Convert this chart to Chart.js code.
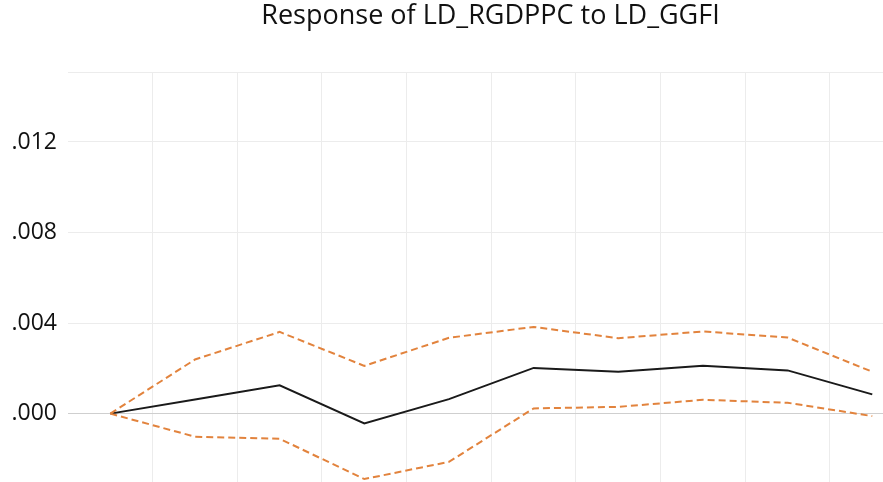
<!DOCTYPE html>
<html>
<head>
<meta charset="utf-8">
<script src="https://cdn.jsdelivr.net/npm/chart.js@4"></script>
<style>
  html, body { margin: 0; padding: 0; background: #fff; overflow: hidden; width: 883px; height: 482px; }
  #wrap { position: relative; width: 981px; height: 482px; }
</style>
</head>
<body>
<div id="wrap"><canvas id="c" width="981" height="482"></canvas></div>
<script>
const periods = [1, 2, 3, 4, 5, 6, 7, 8, 9, 10];
const response = [0, 0.00062, 0.00125, -0.00043, 0.00064, 0.00202, 0.00185, 0.00211, 0.00191, 0.00085];
const upperBand = [0, 0.00239, 0.00361, 0.00211, 0.00335, 0.00383, 0.00333, 0.00363, 0.00336, 0.00185];
const lowerBand = [0, -0.00102, -0.00111, -0.00289, -0.00213, 0.00023, 0.00030, 0.00061, 0.00048, -0.00011];
const yTickValues = [0, 0.004, 0.008, 0.012];
const yTickLabels = ['.000', '.004', '.008', '.012'];
const titleText = 'Response of LD_RGDPPC to LD_GGFI';

const Y_MIN = -0.00302, Y_MAX = 0.01509;
const toPts = arr => arr.map((v, i) => ({ x: periods[i], y: v }));
const orange = '#E2833D';

new Chart(document.getElementById('c'), {
  type: 'line',
  data: {
    datasets: [
      { data: toPts(upperBand), borderColor: orange, borderWidth: 2, borderDash: [7, 4], pointRadius: 0, tension: 0, fill: false },
      { data: toPts(lowerBand), borderColor: orange, borderWidth: 2, borderDash: [7, 4], pointRadius: 0, tension: 0, fill: false },
      { data: toPts(response), borderColor: '#1a1a1a', borderWidth: 2, pointRadius: 0, tension: 0, fill: false }
    ]
  },
  options: {
    responsive: false,
    animation: false,
    devicePixelRatio: 1,
    layout: { padding: 0 },
    plugins: {
      legend: { display: false },
      tooltip: { enabled: false },
      title: {
        display: true,
        text: titleText,
        color: '#111',
        font: { family: 'Open Sans', size: 27, weight: 'normal', lineHeight: 1.2 },
        padding: { top: 0, bottom: 39.6 }
      }
    },
    scales: {
      x: {
        type: 'linear',
        min: 0.5,
        max: 10.5,
        afterBuildTicks: s => { s.ticks = periods.slice(0, -1).map(p => ({ value: p + 0.5 })); },
        ticks: { display: false },
        grid: { color: '#ececec', lineWidth: 1, drawTicks: false },
        border: { display: false },
        afterFit: s => { s.height = 0; s.paddingLeft = 0; s.paddingRight = 0; }
      },
      y: {
        min: Y_MIN,
        max: Y_MAX,
        afterBuildTicks: s => { s.ticks = yTickValues.map(v => ({ value: v })).concat([{ value: Y_MAX }]); },
        ticks: {
          padding: 11,
          color: '#111',
          font: { family: 'Open Sans', size: 23 },
          callback: (v) => { const i = yTickValues.findIndex(t => Math.abs(t - v) < 1e-9); return i >= 0 ? yTickLabels[i] : ''; }
        },
        grid: {
          drawTicks: false,
          lineWidth: 1,
          color: ctx => (ctx.tick && Math.abs(ctx.tick.value) < 1e-9) ? '#cfcfcf' : '#ececec'
        },
        border: { display: false },
        afterFit: s => { s.width = 68; s.paddingTop = 0; s.paddingBottom = 0; }
      },
      yRight: {
        position: 'right',
        min: Y_MIN,
        max: Y_MAX,
        ticks: { display: false },
        grid: { display: false, drawTicks: false },
        border: { display: false },
        afterFit: s => { s.width = 66.4; s.paddingTop = 0; s.paddingBottom = 0; }
      }
    }
  }
});
</script>
</body>
</html>
